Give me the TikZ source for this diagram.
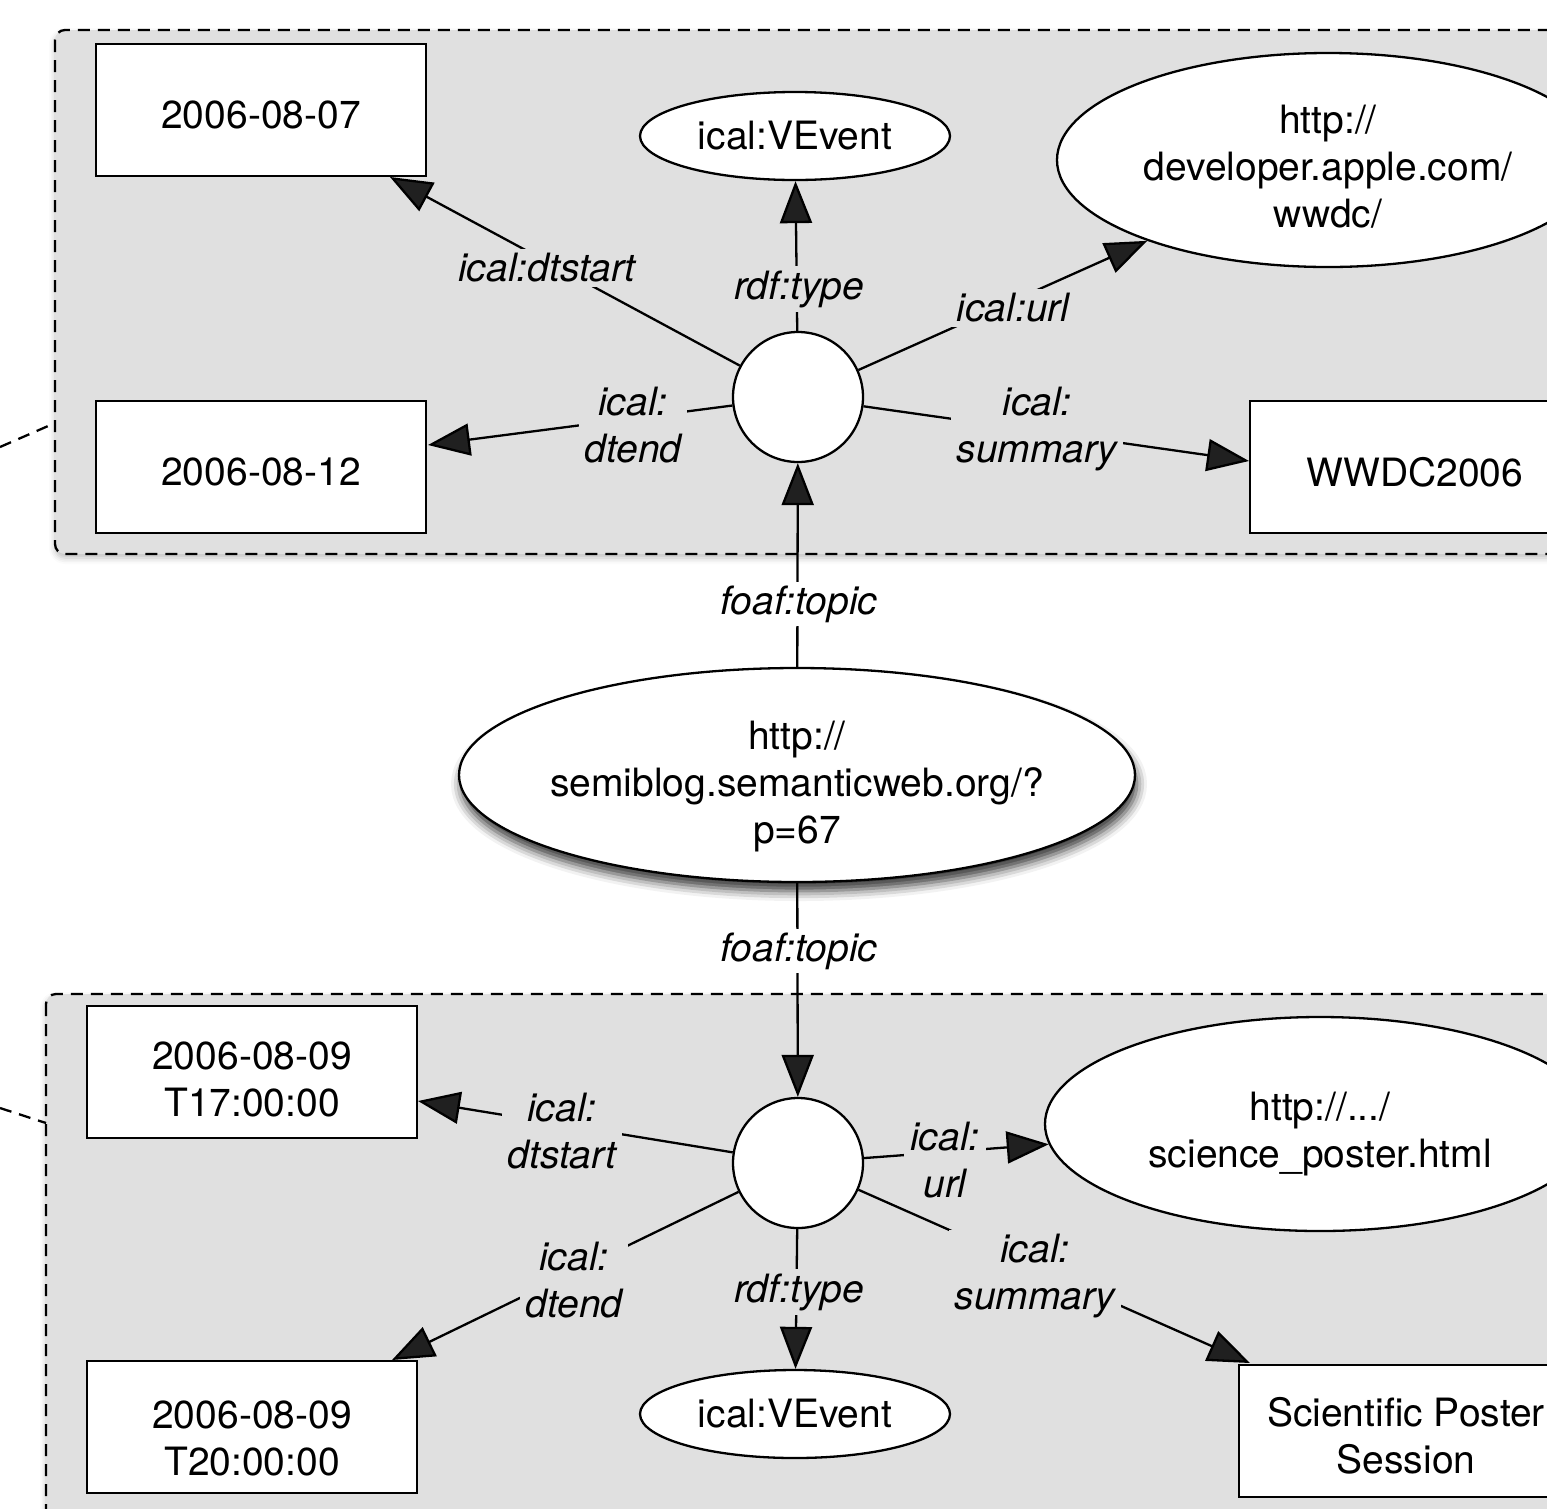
\documentclass[tikz,border=0pt]{standalone}
\usepackage{fontspec}
\setmainfont{TeX Gyre Heros}
\usetikzlibrary{shapes.geometric,arrows.meta,shadows.blur}
\definecolor{grpfill}{RGB}{224,224,224}
\newcommand{\diafont}{\fontsize{39}{47}\selectfont}

\begin{document}
\begin{tikzpicture}[x=1pt,y=-1pt,font=\diafont,line width=2.3pt,
  box/.style={draw,fill=white,rectangle,minimum width=330pt,minimum height=132pt,inner sep=0pt},
  ell/.style={draw,fill=white,ellipse,inner sep=0pt},
  blank/.style={draw,fill=white,circle,minimum size=130pt,inner sep=0pt},
  txt/.style n args={2}{label={[align=center,yshift=#1,font=\diafont]center:#2}},
  grpdash/.style={dash pattern=on 12pt off 8pt},
  grp/.style={draw,grpdash,fill=grpfill,rounded corners=10pt,
    blur shadow={shadow xshift=0pt,shadow yshift=-4pt,shadow blur radius=6pt,shadow opacity=25}},
  arr/.style={-{Triangle[length=42pt,width=32pt]}},
  lbl/.style={fill=grpfill,font=\diafont\itshape,align=center,inner xsep=6pt,inner ysep=4pt}]

\useasboundingbox (0,0) rectangle (1547,1508);
\clip (0,0) rectangle (1547,1508);

% event groups
\draw[grp] (55,30) rectangle (1640,554);
\draw[grp] (46,994) rectangle (1640,1580);

% links leaving the groups on the left
\coordinate (x1a) at (0,447);
\coordinate (x1b) at (55,423);
\coordinate (x2a) at (0,1108);
\coordinate (x2b) at (46,1123);
\draw[grpdash] (x1a) -- (x1b);
\draw[grpdash] (x2a) -- (x2b);

% first event
\node[box,txt={-5pt}{2006-08-07}] (d1) at (261,110) {};
\node[box,txt={-5pt}{2006-08-12}] (d2) at (261,467) {};
\node[box,txt={-5pt}{WWDC2006}] (wd) at (1415,467) {};
\node[ell,minimum width=310pt,minimum height=88pt,txt={0pt}{ical:VEvent}] (ev1) at (795,136) {};
\node[ell,minimum width=542pt,minimum height=214pt,
  txt={-7pt}{http://\\developer.apple.com/\\wwdc/}] (ap) at (1328,160) {};
\node[blank] (c1) at (798,397) {};

% blog post
\node[ell,minimum width=676pt,minimum height=214pt,
  blur shadow={shadow xshift=2pt,shadow yshift=-9pt,shadow blur radius=10pt,shadow opacity=80},
  txt={-12pt}{http://\\semiblog.semanticweb.org/?\\p=67}] (sb) at (797,775) {};

% second event
\node[box,txt={-7pt}{2006-08-09\\T17:00:00}] (d3) at (252,1072) {};
\node[box,txt={-11pt}{2006-08-09\\T20:00:00}] (d4) at (252,1427) {};
\node[box,minimum width=334pt,txt={-5pt}{Scientific Poster\\Session}] (ps) at (1406,1431) {};
\node[ell,minimum width=550pt,minimum height=214pt,
  txt={-10pt}{http://.../\\science\_poster.html}] (sp) at (1320,1124) {};
\node[ell,minimum width=310pt,minimum height=88pt,txt={0pt}{ical:VEvent}] (ev2) at (795,1414) {};
\node[blank] (c2) at (798,1163) {};

% arrow end points on the boxes
\coordinate (t-ds1) at (390,177);
\coordinate (t-de1) at (428,445);
\coordinate (t-su1) at (1249,461);
\coordinate (t-ds2) at (418,1101);
\coordinate (t-de2) at (392,1360);
\coordinate (t-su2) at (1250,1363);

% properties
\draw[arr] (c1) -- (t-ds1);
\draw[arr] (c1) -- (ev1);
\draw[arr] (c1) -- (ap);
\draw[arr] (c1) -- (t-de1);
\draw[arr] (c1) -- (t-su1);
\draw[arr] (sb) -- (c1);
\draw[arr] (sb) -- (c2);
\draw[arr] (c2) -- (t-ds2);
\draw[arr] (c2) -- (t-de2);
\draw[arr] (c2) -- (ev2);
\draw[arr] (c2) -- (sp);
\draw[arr] (c2) -- (t-su2);

% property labels
\node[lbl] (l-ds1) at (547,268) {ical:dtstart};
\node[lbl] (l-ty1) at (799,289) {rdf:type};
\node[lbl] (l-ur1) at (1013,308) {ical:url};
\node[lbl] (l-de1) at (633,425) {ical:\\dtend};
\node[lbl] (l-su1) at (1037,429) {ical:\\summary};
\node[lbl,fill=white] (l-tp1) at (799,604) {foaf:topic};
\node[lbl,fill=white] (l-tp2) at (799,951) {foaf:topic};
\node[lbl] (l-ds2) at (562,1131) {ical:\\dtstart};
\node[lbl] (l-de2) at (574,1280) {ical:\\dtend};
\node[lbl] (l-ty2) at (799,1292) {rdf:type};
\node[lbl] (l-ur2) at (945,1160) {ical:\\url};
\node[lbl] (l-su2) at (1035,1276) {ical:\\summary};
\end{tikzpicture}
\end{document}
